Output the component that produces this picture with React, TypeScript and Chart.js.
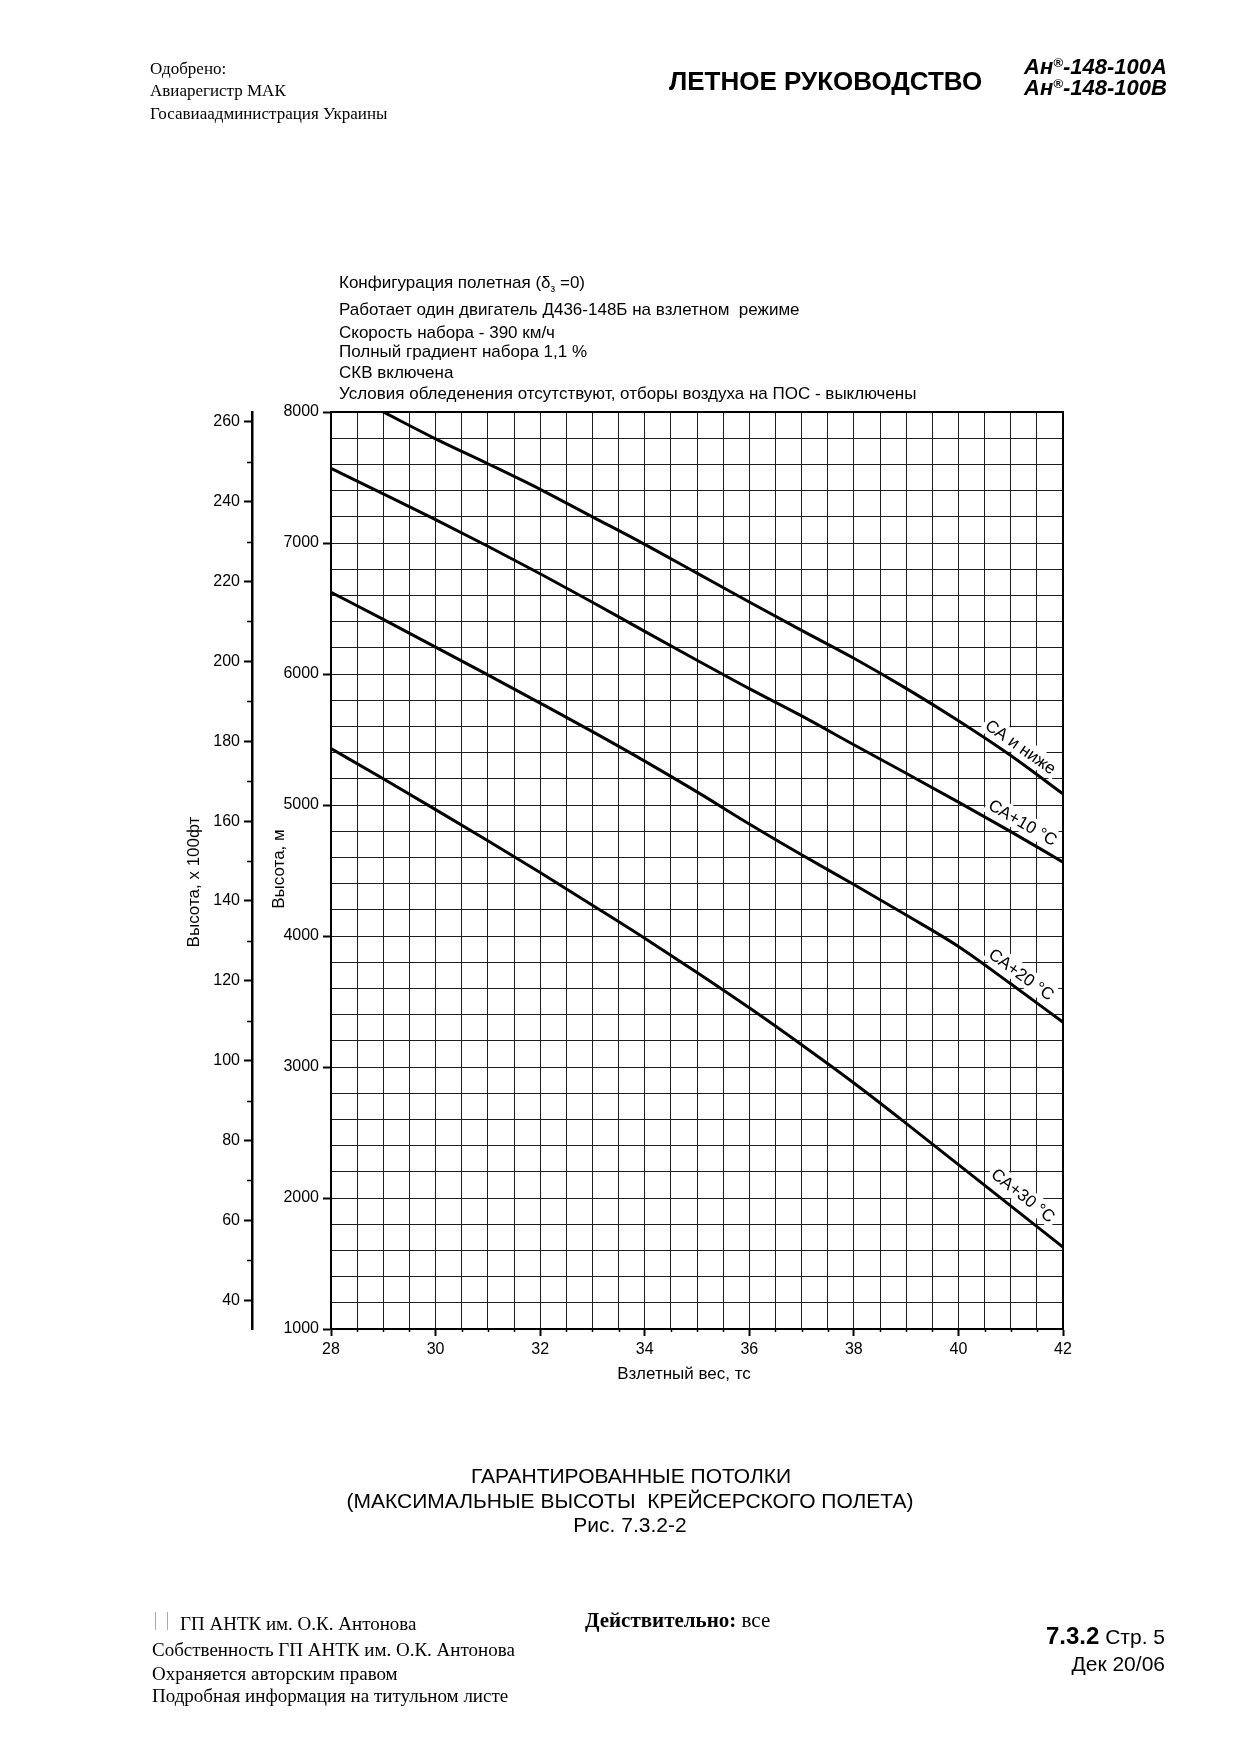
import React, { useEffect, useRef } from "react";
import { Chart, registerables } from "chart.js";

Chart.register(...registerables);

// ---------------- data ----------------
const WEIGHT_MIN = 28;
const WEIGHT_MAX = 42;
const ALT_M_MIN = 1000;
const ALT_M_MAX = 8000;
const M_TO_100FT = 1 / 30.48;

const weightTickLabels = [28, 30, 32, 34, 36, 38, 40, 42];
const altMeterTickLabels = [1000, 2000, 3000, 4000, 5000, 6000, 7000, 8000];
const altFtTickLabels = [40, 60, 80, 100, 120, 140, 160, 180, 200, 220, 240, 260];

const seriesNames = ["СА и ниже", "СА+10 °С", "СА+20 °С", "СА+30 °С"];

const isaWeights = [29, 30, 31, 32, 33, 34, 35, 36, 37, 38, 39, 40, 41, 42];
const isaAlt = [8000, 7795, 7605, 7410, 7200, 6990, 6770, 6550, 6333, 6120, 5890, 5643, 5378, 5085];

const isa10Weights = [28, 29, 30, 31, 32, 33, 34, 35, 36, 37, 38, 39, 40, 41, 42];
const isa10Alt = [7570, 7375, 7178, 6975, 6765, 6548, 6325, 6105, 5888, 5680, 5460, 5242, 5022, 4797, 4564];

const isa20Weights = [28, 29, 30, 31, 32, 33, 34, 35, 36, 37, 38, 39, 40, 41, 42];
const isa20Alt = [6624, 6417, 6205, 5993, 5778, 5560, 5335, 5100, 4855, 4620, 4393, 4160, 3920, 3635, 3342];

const isa30Weights = [28, 29, 30, 31, 32, 33, 34, 35, 36, 37, 38, 39, 40, 41, 42];
const isa30Alt = [5431, 5200, 4965, 4727, 4485, 4235, 3983, 3722, 3452, 3170, 2878, 2570, 2255, 1940, 1625];

const seriesWeights = [isaWeights, isa10Weights, isa20Weights, isa30Weights];
const seriesAlt = [isaAlt, isa10Alt, isa20Alt, isa30Alt];

// where along each curve its label sits (weight, t) and how far above the line (px)
const labelWeights = [41.05, 41.1, 41.05, 41.05];
const labelOffsets = [13, 14, 14, 16];

const headerLines = [
  "Работает один двигатель Д436-148Б на взлетном  режиме",
  "Скорость набора - 390 км/ч",
  "Полный градиент набора 1,1 %",
  "СКВ включена",
  "Условия обледенения отсутствуют, отборы воздуха на ПОС - выключены",
];
const headerLineY = [309, 332, 351, 372, 393];

// ---------------- helpers ----------------
const SANS = '"Liberation Sans", Arial, Helvetica, sans-serif';
const SERIF = '"Liberation Serif", "Times New Roman", serif';

function interp(xs: number[], ys: number[], x: number): number {
  if (x <= xs[0]) return ys[0];
  for (let i = 0; i < xs.length - 1; i++) {
    if (x >= xs[i] && x <= xs[i + 1]) {
      const f = (x - xs[i]) / (xs[i + 1] - xs[i]);
      return ys[i] + f * (ys[i + 1] - ys[i]);
    }
  }
  return ys[ys.length - 1];
}

const curveLabelsPlugin = {
  id: "curveLabels",
  beforeDatasetsDraw(chart: any) {
    const { ctx, scales } = chart;
    const xs = scales.x;
    const ys = scales.y;
    ctx.save();
    ctx.font = `17px ${SANS}`;
    seriesNames.forEach((name, i) => {
      const t = labelWeights[i];
      const w = seriesWeights[i];
      const a = seriesAlt[i];
      const x1 = xs.getPixelForValue(t - 0.5);
      const y1 = ys.getPixelForValue(interp(w, a, t - 0.5));
      const x2 = xs.getPixelForValue(t + 0.5);
      const y2 = ys.getPixelForValue(interp(w, a, t + 0.5));
      const ang = Math.atan2(y2 - y1, x2 - x1);
      const cx = xs.getPixelForValue(t);
      const cy = ys.getPixelForValue(interp(w, a, t));
      const off = labelOffsets[i];
      const px = cx + Math.sin(ang) * off;
      const py = cy - Math.cos(ang) * off;
      ctx.save();
      ctx.translate(px, py);
      ctx.rotate(ang);
      const tw = ctx.measureText(name).width;
      ctx.fillStyle = "#fff";
      ctx.fillRect(-tw / 2 - 3, -10, tw + 6, 20);
      ctx.fillStyle = "#000";
      ctx.textAlign = "center";
      ctx.textBaseline = "middle";
      ctx.fillText(name, 0, 1);
      ctx.restore();
    });
    ctx.restore();
  },
};

const framePlugin = {
  id: "frame",
  afterDatasetsDraw(chart: any) {
    const { ctx, chartArea: a, scales } = chart;
    ctx.save();
    ctx.strokeStyle = "#000";
    ctx.lineWidth = 2;
    ctx.strokeRect(a.left, a.top, a.right - a.left, a.bottom - a.top);
    ctx.lineWidth = 1.5;
    ctx.beginPath();
    const xs = scales.x;
    for (let v = WEIGHT_MIN; v <= WEIGHT_MAX + 1e-9; v += 0.5) {
      if (weightTickLabels.includes(v)) continue;
      const px = Math.round(xs.getPixelForValue(v)) + 0.5;
      ctx.moveTo(px, a.bottom);
      ctx.lineTo(px, a.bottom + 3);
    }
    const f = scales.yFt;
    for (let i = 0; i < altFtTickLabels.length - 1; i++) {
      const v = (altFtTickLabels[i] + altFtTickLabels[i + 1]) / 2;
      const py = Math.round(f.getPixelForValue(v)) + 0.5;
      ctx.moveTo(f.right, py);
      ctx.lineTo(f.right - 5, py);
    }
    ctx.stroke();
    ctx.restore();
  },
};

function T(props: {
  x: number;
  y: number;
  anchor?: "start" | "middle" | "end";
  font: string;
  children: any;
  rotate?: boolean;
  style?: any;
}) {
  const { x, y, anchor = "start", font, children, rotate, style } = props;
  const tx = anchor === "start" ? "0" : anchor === "middle" ? "-50%" : "-100%";
  return (
    <div
      style={{
        position: "absolute",
        left: x,
        top: y,
        font,
        lineHeight: 1,
        whiteSpace: "nowrap",
        color: "#000",
        transform: rotate ? "translate(-50%, -50%) rotate(-90deg)" : `translate(${tx}, -50%)`,
        ...style,
      }}
    >
      {children}
    </div>
  );
}

export default function App() {
  const canvasRef = useRef<HTMLCanvasElement | null>(null);

  useEffect(() => {
    const canvas = canvasRef.current;
    if (!canvas) return;
    Chart.defaults.font.family = SANS;
    Chart.defaults.color = "#000";
    const tickFont = { size: 16, family: SANS };
    const chart = new Chart(canvas, {
      type: "line",
      data: {
        datasets: seriesNames.map((name, i) => ({
          label: name,
          data: seriesWeights[i].map((w, j) => ({ x: w, y: seriesAlt[i][j] })),
          borderColor: "#000",
          borderWidth: 3,
          pointRadius: 0,
          fill: false,
          cubicInterpolationMode: "monotone" as const,
        })),
      },
      options: {
        responsive: false,
        animation: false,
        devicePixelRatio: 1,
        layout: { padding: { left: 152, right: 177, top: 412, bottom: 386 } },
        plugins: { legend: { display: false }, tooltip: { enabled: false } },
        scales: {
          x: {
            type: "linear",
            min: WEIGHT_MIN,
            max: WEIGHT_MAX,
            ticks: {
              stepSize: 0.5,
              autoSkip: false,
              maxRotation: 0,
              font: tickFont,
              color: "#000",
              padding: 4,
              callback: (v: any) => (weightTickLabels.includes(Number(v)) ? String(v) : ""),
            },
            grid: {
              color: "#1e1e1e",
              lineWidth: 1,
              tickLength: 7,
              tickWidth: 2,
              tickColor: (c: any) =>
                c.tick && weightTickLabels.includes(c.tick.value) ? "#000" : "rgba(0,0,0,0)",
            },
            border: { display: true, color: "#000", width: 2 },
            afterFit: (s: any) => {
              s.height = 40;
            },
          },
          y: {
            type: "linear",
            position: "left",
            weight: 0,
            min: ALT_M_MIN,
            max: ALT_M_MAX,
            ticks: {
              stepSize: 200,
              autoSkip: false,
              font: tickFont,
              color: "#000",
              padding: 4,
              callback: (v: any) => (altMeterTickLabels.includes(Number(v)) ? String(v) : ""),
            },
            grid: {
              color: "#1e1e1e",
              lineWidth: 1,
              tickLength: 8,
              tickWidth: 2,
              tickColor: (c: any) =>
                c.tick && altMeterTickLabels.includes(c.tick.value) ? "#000" : "rgba(0,0,0,0)",
            },
            border: { display: true, color: "#000", width: 2 },
            afterFit: (s: any) => {
              s.width = 79;
            },
          },
          yFt: {
            type: "linear",
            position: "left",
            weight: 10,
            min: ALT_M_MIN * M_TO_100FT,
            max: ALT_M_MAX * M_TO_100FT,
            ticks: {
              stepSize: 20,
              autoSkip: false,
              includeBounds: false,
              font: tickFont,
              color: "#000",
              padding: 4,
              callback: (v: any) => (altFtTickLabels.includes(Number(v)) ? String(v) : ""),
            },
            grid: {
              drawOnChartArea: false,
              drawTicks: true,
              tickLength: 8,
              tickWidth: 2,
              tickColor: "#000",
            },
            border: { display: true, color: "#000", width: 2.5 },
            afterFit: (s: any) => {
              s.width = 100;
            },
          },
        },
      },
      plugins: [curveLabelsPlugin, framePlugin],
    } as any);
    return () => chart.destroy();
  }, []);

  const headerFont = `17px ${SANS}`;
  const serif17 = `17px ${SERIF}`;
  const serif19 = `19px ${SERIF}`;

  return (
    <div
      style={{
        position: "absolute",
        left: 0,
        top: 0,
        width: 1240,
        height: 1755,
        background: "#fff",
        overflow: "hidden",
      }}
    >
      <canvas
        ref={canvasRef}
        width={1240}
        height={1755}
        style={{ position: "absolute", left: 0, top: 0, width: 1240, height: 1755 }}
      />

      {/* page header */}
      <T x={150} y={68} font={serif17}>Одобрено:</T>
      <T x={150} y={90} font={serif17}>Авиарегистр МАК</T>
      <T x={150} y={113} font={serif17}>Госавиаадминистрация Украины</T>
      <T x={669} y={81} font={`bold 26px ${SANS}`}>ЛЕТНОЕ РУКОВОДСТВО</T>
      <T x={1024} y={67} font={`italic bold 22px ${SANS}`}>
        Ан<sup style={{ fontSize: "0.6em", verticalAlign: "0.6em" }}>®</sup>-148-100А
      </T>
      <T x={1024} y={88} font={`italic bold 22px ${SANS}`}>
        Ан<sup style={{ fontSize: "0.6em", verticalAlign: "0.6em" }}>®</sup>-148-100В
      </T>

      {/* chart conditions */}
      <T x={339} y={284} font={headerFont}>
        Конфигурация полетная (δ<sub style={{ fontSize: "0.6em", verticalAlign: "-0.4em" }}>з</sub> =0)
      </T>
      {headerLines.map((l, i) => (
        <T key={i} x={339} y={headerLineY[i]} font={headerFont} style={{ whiteSpace: "pre" }}>
          {l}
        </T>
      ))}

      {/* axis titles */}
      <T x={684} y={1373} anchor="middle" font={`17px ${SANS}`}>Взлетный вес, тс</T>
      <T x={278} y={869} rotate font={`17px ${SANS}`}>Высота, м</T>
      <T x={193} y={882} rotate font={`17px ${SANS}`}>Высота, х 100фт</T>

      {/* caption */}
      <T x={631} y={1475} anchor="middle" font={`21px ${SANS}`}>ГАРАНТИРОВАННЫЕ ПОТОЛКИ</T>
      <T x={630} y={1500} anchor="middle" font={`21px ${SANS}`} style={{ whiteSpace: "pre" }}>
        (МАКСИМАЛЬНЫЕ ВЫСОТЫ  КРЕЙСЕРСКОГО ПОЛЕТА)
      </T>
      <T x={630} y={1524} anchor="middle" font={`21px ${SANS}`}>Рис. 7.3.2-2</T>

      {/* footer */}
      <div style={{ position: "absolute", left: 155, top: 1612, width: 1, height: 18, background: "#aaa" }} />
      <div style={{ position: "absolute", left: 167, top: 1612, width: 1, height: 18, background: "#aaa" }} />
      <T x={180} y={1623} font={serif19}>ГП АНТК им. О.К. Антонова</T>
      <T x={152} y={1649} font={serif19}>Собственность ГП АНТК им. О.К. Антонова</T>
      <T x={152} y={1673} font={serif19}>Охраняется авторским правом</T>
      <T x={152} y={1695} font={serif19}>Подробная информация на титульном листе</T>
      <T x={585} y={1620} font={`21px ${SERIF}`}>
        <b>Действительно:</b> все
      </T>
      <T x={1165} y={1636} anchor="end" font={`21px ${SANS}`}>
        <b style={{ fontSize: 24 }}>7.3.2</b> Стр. 5
      </T>
      <T x={1165} y={1663} anchor="end" font={`21px ${SANS}`}>Дек 20/06</T>
    </div>
  );
}
